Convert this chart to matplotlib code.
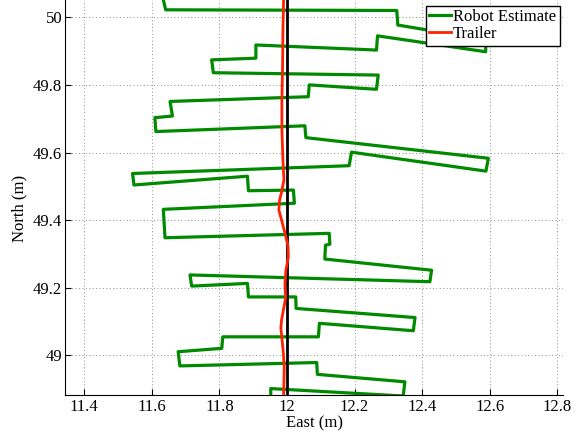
import matplotlib.pyplot as plt
from matplotlib.ticker import FormatStrFormatter

# Data
robot_east = [11.632, 11.641, 12.325, 12.328, 12.589, 12.588, 12.268, 12.265,
              11.908, 11.908, 11.777, 11.782, 12.270, 12.265, 12.066, 12.063,
              11.654, 11.661, 11.609, 11.612, 12.053, 12.056, 12.596, 12.589,
              12.191, 12.184, 11.543, 11.547, 11.883, 11.886, 12.019, 12.022,
              11.634, 11.639, 12.125, 12.127, 12.114, 12.112, 12.428, 12.423,
              11.713, 11.718, 11.883, 11.886, 12.026, 12.027, 12.379, 12.374,
              12.096, 12.093, 11.810, 11.807, 11.678, 11.683, 12.088, 12.090,
              12.349, 12.344, 11.952, 11.952]
robot_north = [50.060, 50.022, 50.020, 49.977, 49.933, 49.898, 49.945, 49.903,
               49.918, 49.879, 49.874, 49.836, 49.829, 49.787, 49.800, 49.765,
               49.751, 49.708, 49.703, 49.662, 49.679, 49.644, 49.583, 49.545,
               49.601, 49.561, 49.538, 49.504, 49.530, 49.487, 49.489, 49.450,
               49.432, 49.348, 49.361, 49.329, 49.326, 49.285, 49.252, 49.218,
               49.238, 49.205, 49.213, 49.173, 49.173, 49.139, 49.112, 49.073,
               49.095, 49.055, 49.055, 49.021, 49.011, 48.969, 48.979, 48.944,
               48.922, 48.880, 48.902, 48.868]

trailer_east = [11.990, 11.988, 11.987, 11.985, 11.985, 11.988, 11.991, 11.984,
                11.978, 11.976, 11.984, 11.994, 12.003, 12.004, 11.997, 11.994,
                11.996, 11.984, 11.982, 11.989, 11.992, 11.990]
trailer_north = [50.051, 49.962, 49.853, 49.755, 49.667, 49.578, 49.519, 49.483,
                 49.459, 49.430, 49.400, 49.362, 49.324, 49.291, 49.253, 49.214,
                 49.170, 49.105, 49.081, 49.010, 48.962, 48.883]

truth_east = [12.0, 12.0]
truth_north = [48.86, 50.06]

xticks = [11.4, 11.6, 11.8, 12.0, 12.2, 12.4, 12.6, 12.8]
yticks = [49.0, 49.2, 49.4, 49.6, 49.8, 50.0]

plt.rcParams['font.family'] = ['Liberation Serif', 'DejaVu Serif']
plt.rcParams['font.size'] = 12

fig = plt.figure(figsize=(5.82, 4.33), dpi=100)
ax = fig.add_axes([65 / 582, 38 / 433, 498 / 582, 395 / 433])

ax.plot(robot_east, robot_north, color='#008a00', lw=2.3, label='Robot Estimate', zorder=2)
ax.plot(truth_east, truth_north, color='black', lw=2.0, zorder=3)
ax.plot(trailer_east, trailer_north, color='#ff2200', lw=2.0, label='Trailer', zorder=4)

ax.set_xlim(11.343, 12.817)
ax.set_ylim(48.883, 50.051)
ax.set_xticks(xticks)
ax.set_yticks(yticks)
ax.xaxis.set_major_formatter(FormatStrFormatter('%g'))
ax.yaxis.set_major_formatter(FormatStrFormatter('%g'))
ax.tick_params(direction='in', length=4, width=0.8)
ax.tick_params(axis='x', pad=3)
ax.tick_params(axis='y', pad=2)
ax.grid(True, linestyle=(0, (1, 2.5)), color='0.55', lw=0.7)
ax.spines['top'].set_visible(False)
ax.spines['right'].set_visible(False)

ax.set_xlabel('East (m)', labelpad=0)
ax.set_ylabel('North (m)', labelpad=4)
ax.yaxis.label.set_y(0.473)

leg = ax.legend(loc='upper right', bbox_to_anchor=(559.5 / 582, 1 - 6 / 433),
                bbox_transform=fig.transFigure, fancybox=False, framealpha=1,
                edgecolor='black', borderaxespad=0, borderpad=0.2,
                labelspacing=0.05, handlelength=1.3, handletextpad=0.15)
leg.get_frame().set_linewidth(1.0)

plt.savefig('out.png', dpi=100)
